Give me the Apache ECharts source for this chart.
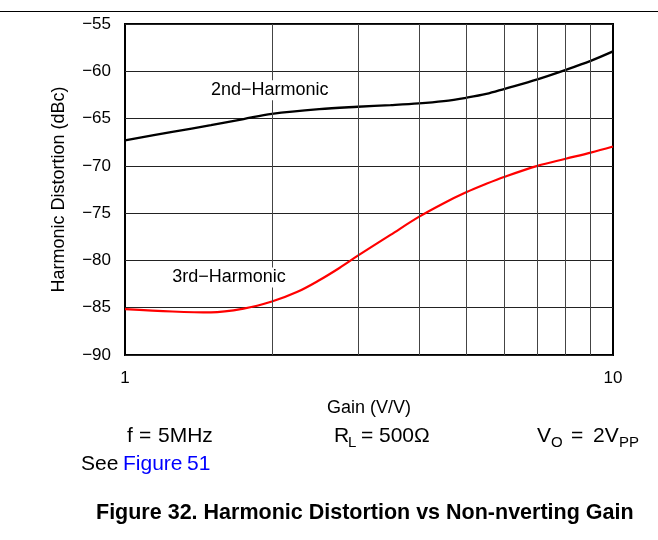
<!DOCTYPE html>
<html>
<head>
<meta charset="utf-8">
<script src="https://cdn.jsdelivr.net/npm/echarts@6/dist/echarts.min.js"></script>
<style>
  html, body { margin: 0; padding: 0; background: #fff; }
  #chart { width: 658px; height: 540px; }
</style>
</head>
<body>
<div id="chart"></div>
<script>
// Gain (V/V) on a log axis, distortion in dBc
const gainGrid = [2, 3, 4, 5, 6, 7, 8, 9];

const gain2nd = [1, 1.25, 1.5, 1.75, 2, 2.5, 3, 3.5, 4, 4.5, 5, 5.5, 6, 7, 8, 9, 10];
const hd2nd = [-67.3, -66.4, -65.7, -65.05, -64.5, -64.0, -63.75, -63.58, -63.4, -63.15, -62.8, -62.4, -61.85, -60.85, -59.85, -58.9, -57.9];

const gain3rd = [1, 1.25, 1.5, 1.75, 2, 2.25, 2.5, 2.75, 3, 3.5, 4, 4.5, 5, 5.5, 6, 7, 8, 9, 10];
const hd3rd = [-85.15, -85.4, -85.5, -85.1, -84.35, -83.35, -82.1, -80.8, -79.5, -77.3, -75.4, -73.95, -72.8, -71.9, -71.15, -70.0, -69.25, -68.6, -67.95];

const curveNames = ['2nd\u2212Harmonic', '3rd\u2212Harmonic'];
const curveNameAt = [[1.98, -62.0], [1.634, -81.8]];

const yMin = -90, yMax = -55, yStep = 5;

const FONT = '"Liberation Sans", Arial, Helvetica, sans-serif';

const pairs = (xs, ys) => xs.map((x, i) => [x, ys[i]]);
const minus = v => String(v).replace('-', '\u2212');

const curveLabel = (i) => ({
  symbol: 'rect',
  symbolSize: 1,
  itemStyle: { color: 'transparent' },
  label: {
    show: true,
    position: 'inside',
    formatter: curveNames[i],
    color: '#000',
    fontFamily: FONT,
    fontSize: 18,
    backgroundColor: '#fff',
    padding: [1, 2]
  },
  data: [{ coord: curveNameAt[i] }]
});

// Condition lines: pieces of normal text and subscripts, each at its own x
function textRun(top, pieces) {
  return pieces.map(([txt, x, isSub, color]) => ({
    type: 'text',
    left: x,
    top: isSub ? top + 9 : top,
    style: { text: txt, font: (isSub ? '15px ' : '21px ') + FONT, fill: color || '#000' }
  }));
}

const chart = echarts.init(document.getElementById('chart'), null, { renderer: 'canvas' });

chart.setOption({
  animation: false,
  backgroundColor: '#fff',
  grid: {
    left: 125, right: 45, top: 24, bottom: 185,
    show: true, borderColor: '#000', borderWidth: 2, backgroundColor: 'transparent'
  },
  xAxis: {
    type: 'log', logBase: 10, min: 1, max: 10,
    name: 'Gain (V/V)', nameLocation: 'middle', nameGap: 44,
    nameTextStyle: { color: '#000', fontFamily: FONT, fontSize: 18 },
    axisLine: { show: false },
    axisTick: { show: false },
    splitLine: { show: false },
    axisLabel: { color: '#000', fontFamily: FONT, fontSize: 17, margin: 15 }
  },
  yAxis: {
    type: 'value', min: yMin, max: yMax, interval: yStep,
    name: 'Harmonic Distortion (dBc)', nameLocation: 'middle', nameGap: 57,
    nameTextStyle: { color: '#000', fontFamily: FONT, fontSize: 18 },
    axisLine: { show: false },
    axisTick: { show: false },
    splitLine: { show: true, lineStyle: { color: '#222', width: 1 } },
    axisLabel: { color: '#000', fontFamily: FONT, fontSize: 17, margin: 14, formatter: minus }
  },
  series: [
    {
      type: 'line',
      data: [],
      z: 1,
      markLine: {
        silent: true,
        symbol: 'none',
        label: { show: false },
        lineStyle: { color: '#444', width: 1, type: 'solid' },
        data: gainGrid.map(g => ({ xAxis: g }))
      }
    },
    {
      name: curveNames[0],
      type: 'line',
      data: pairs(gain2nd, hd2nd),
      smooth: 0.35,
      showSymbol: false,
      z: 3,
      lineStyle: { color: '#000', width: 2.3 },
      markPoint: curveLabel(0)
    },
    {
      name: curveNames[1],
      type: 'line',
      data: pairs(gain3rd, hd3rd),
      smooth: 0.35,
      showSymbol: false,
      z: 3,
      lineStyle: { color: '#ff0000', width: 2.2 },
      markPoint: curveLabel(1)
    }
  ],
  graphic: [
    { type: 'line', shape: { x1: 0, y1: 11.5, x2: 658, y2: 11.5 }, style: { stroke: '#000', lineWidth: 1 } },
    ...textRun(426, [['f', 127], ['=', 139], ['5MHz', 158]]),
    ...textRun(426, [['R', 334], ['L', 348, true], ['=', 361], ['500\u03a9', 379]]),
    ...textRun(426, [['V', 537], ['O', 551, true], ['=', 571], ['2V', 593], ['PP', 619, true]]),
    ...textRun(454, [['See', 81], ['Figure', 123, false, '#0000ff'], ['51', 187, false, '#0000ff']]),
    { type: 'text', left: 96, top: 502, style: { text: 'Figure 32. Harmonic Distortion vs Non-nverting Gain', font: 'bold 21.5px ' + FONT, fill: '#000' } }
  ]
});
</script>
</body>
</html>
